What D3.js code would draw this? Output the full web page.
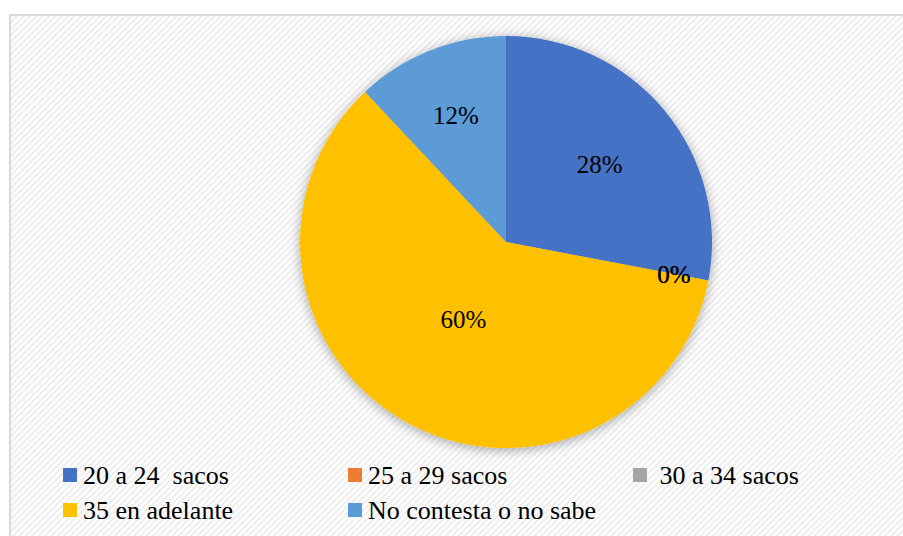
<!DOCTYPE html>
<html><head><meta charset="utf-8">
<script src="https://cdn.jsdelivr.net/npm/d3@7"></script>
<style>html,body{margin:0;padding:0;background:#fff;}svg{display:block;}
text{font-family:"Liberation Serif","Times New Roman",Tinos,serif;}</style>
</head><body>
<svg id="chart" width="903" height="536"></svg>
<script>
// data
const categories = ["20 a 24  sacos", "25 a 29 sacos", " 30 a 34 sacos", "35 en adelante", "No contesta o no sabe"];
const values = [28, 0, 0, 60, 12];
const labels = ["28%", "0%", "0%", "60%", "12%"];
const colors = ["#4472C4", "#ED7D31", "#A5A5A5", "#FFC000", "#5B9BD5"];
// label distance from centre as fraction of radius (layout)
const labelRadiusFrac = [0.59, 0.83, 0.83, 0.43, 0.66];

const W = 903, H = 536;
const svg = d3.select("#chart");
const defs = svg.append("defs");
const pat = defs.append("pattern").attr("id","hatch").attr("patternUnits","userSpaceOnUse")
  .attr("width",4.5).attr("height",4.5).attr("patternTransform","rotate(45)");
pat.append("rect").attr("width",4.5).attr("height",4.5).attr("fill","#ffffff");
pat.append("rect").attr("width",2.2).attr("height",4.5).attr("fill","#eeeeee");

const f = defs.append("filter").attr("id","shadow").attr("x","-20%").attr("y","-20%").attr("width","140%").attr("height","140%");
f.append("feGaussianBlur").attr("in","SourceAlpha").attr("stdDeviation",6).attr("result","b");
f.append("feOffset").attr("in","b").attr("dx",0).attr("dy",2).attr("result","o");
f.append("feComponentTransfer").attr("in","o").attr("result","s")
  .append("feFuncA").attr("type","linear").attr("slope",0.35);
const m = f.append("feMerge");
m.append("feMergeNode").attr("in","s");
m.append("feMergeNode").attr("in","SourceGraphic");

svg.append("rect").attr("x",10).attr("y",15).attr("width",W).attr("height",H)
  .attr("fill","url(#hatch)").attr("stroke","#d9d9d9").attr("stroke-width",2);

const cx = 506, cy = 242, r = 206;
const pie = d3.pie().sort(null).value(d => d)(values);
const arc = d3.arc().innerRadius(0).outerRadius(r);
const g = svg.append("g").attr("transform",`translate(${cx},${cy})`);
const slices = g.append("g").attr("filter","url(#shadow)");
slices.selectAll("path").data(pie).join("path")
  .attr("d", arc).attr("fill",(d,i)=>colors[i]);

g.selectAll("text.lbl").data(pie).join("text").attr("class","lbl")
  .attr("transform",(d,i)=>{
    const a = (d.startAngle + d.endAngle)/2;
    const rr = r*labelRadiusFrac[i];
    return `translate(${rr*Math.sin(a)},${-rr*Math.cos(a)})`;
  })
  .attr("text-anchor","middle").attr("dy","0.35em")
  .attr("font-size",25)
  .attr("fill","#000").text((d,i)=>labels[i]);

// legend
const colX = [63, 348, 633], rowY = [475, 510];
const lg = svg.append("g");
categories.forEach((c,i)=>{
  const x = colX[i%3], y = rowY[Math.floor(i/3)];
  lg.append("rect").attr("x",x).attr("y",y-7).attr("width",14).attr("height",14).attr("fill",colors[i]);
  lg.append("text").attr("x",x+20).attr("y",y).attr("dy","0.35em")
    .attr("font-size",26)
    .style("white-space","pre").attr("fill","#000").text(c);
});
</script>
</body></html>
